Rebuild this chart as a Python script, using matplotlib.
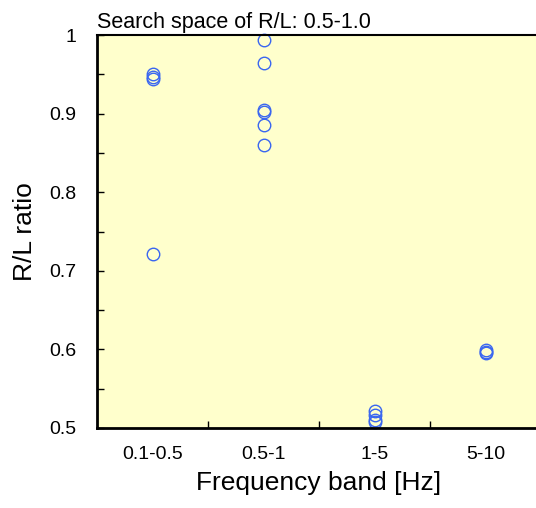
import matplotlib
matplotlib.use("Agg")
import matplotlib.pyplot as plt
from matplotlib.ticker import MultipleLocator, FixedLocator

plt.rcParams['font.family'] = ['Liberation Sans', 'DejaVu Sans']

categories = ['0.1-0.5', '0.5-1', '1-5', '5-10']
values = [
    [0.950, 0.947, 0.944, 0.721],
    [0.994, 0.964, 0.905, 0.902, 0.886, 0.860],
    [0.522, 0.516, 0.510, 0.508],
    [0.599, 0.597, 0.596],
]

fig = plt.figure(figsize=(5.36, 5.08), dpi=100)
ax = fig.add_axes([97/536, 80/508, 444/536, 393/508])
ax.set_facecolor('#ffffcc')

for i, vals in enumerate(values):
    ax.plot([i + 1] * len(vals), vals, linestyle='none', marker='o',
            markersize=9, markerfacecolor='none', markeredgecolor='#3a66f0',
            markeredgewidth=1.0, clip_on=False)

ax.set_xlim(0.5, 4.5)
ax.set_ylim(0.5, 1.0)
ax.xaxis.set_major_locator(FixedLocator([1, 2, 3, 4]))
ax.set_xticklabels(categories)
ax.xaxis.set_minor_locator(FixedLocator([1.5, 2.5, 3.5]))
ax.tick_params(axis='x', which='major', length=0, labelsize=14, pad=13)
ax.tick_params(axis='x', which='minor', length=5, direction='in', width=1)
ax.yaxis.set_minor_locator(MultipleLocator(0.05))
ax.set_yticks([0.5, 0.6, 0.7, 0.8, 0.9, 1.0])
ax.set_yticklabels(['0.5', '0.6', '0.7', '0.8', '0.9', '1'])
ax.tick_params(axis='y', which='both', length=5, direction='in', width=1, labelsize=14, pad=15)

ax.spines['left'].set_linewidth(2)
ax.spines['bottom'].set_linewidth(2)
ax.spines['top'].set_linewidth(1.5)
ax.spines['right'].set_visible(False)

ax.set_xlabel('Frequency band [Hz]', fontsize=19, labelpad=6)
ax.set_ylabel('R/L ratio', fontsize=19, labelpad=9)
ax.set_title('Search space of R/L: 0.5-1.0', fontsize=15.5, loc='left', pad=5)

fig.savefig('out.png', dpi=100)
